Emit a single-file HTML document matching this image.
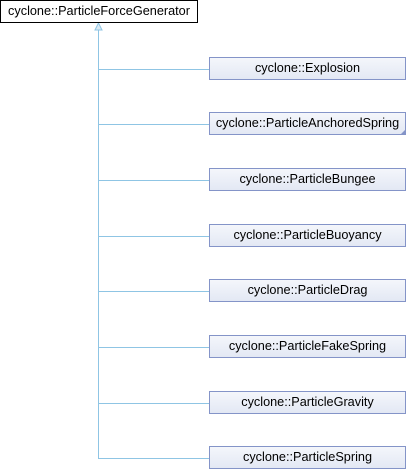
<!DOCTYPE html>
<html><head><style>
body{margin:0;width:408px;height:472px;background:#fff;position:relative;font-family:"Liberation Sans",sans-serif;font-size:12.7px;overflow:hidden}
.b{position:absolute;box-sizing:border-box;text-align:center;line-height:21px;color:#000;white-space:nowrap}
.t{left:0;top:0;width:198px;height:23px;border:1px solid #000;background:#fff}
.c{left:209px;width:197px;height:23px;border:1px solid #8494c8;background:linear-gradient(#f4f6fb,#e3e8f4)}
.h{position:absolute;left:98px;width:111px;height:1px;background:#8fc5e4}
</style></head><body>
<div style="position:absolute;left:98px;top:28px;width:1px;height:431px;background:#8fc5e4"></div>
<svg style="position:absolute;left:93px;top:22px" width="11" height="10"><polygon points="5.5,1 2,8 9,8" fill="#dbeaf4" stroke="#8fc5e4"/></svg>
<div class="b t">cyclone::ParticleForceGenerator</div>
<div class="h" style="top:69px"></div><div class="b c" style="top:57px">cyclone::Explosion</div>
<div class="h" style="top:124px"></div><div class="b c" style="top:112px">cyclone::ParticleAnchoredSpring</div>
<svg style="position:absolute;left:400px;top:129px" width="6" height="6"><polygon points="6,0 6,6 0,6" fill="#8494c8"/></svg>
<div class="h" style="top:180px"></div><div class="b c" style="top:168px">cyclone::ParticleBungee</div>
<div class="h" style="top:236px"></div><div class="b c" style="top:224px">cyclone::ParticleBuoyancy</div>
<div class="h" style="top:291px"></div><div class="b c" style="top:279px">cyclone::ParticleDrag</div>
<div class="h" style="top:347px"></div><div class="b c" style="top:335px">cyclone::ParticleFakeSpring</div>
<div class="h" style="top:403px"></div><div class="b c" style="top:391px">cyclone::ParticleGravity</div>
<div class="h" style="top:458px"></div><div class="b c" style="top:446px">cyclone::ParticleSpring</div>
</body></html>
